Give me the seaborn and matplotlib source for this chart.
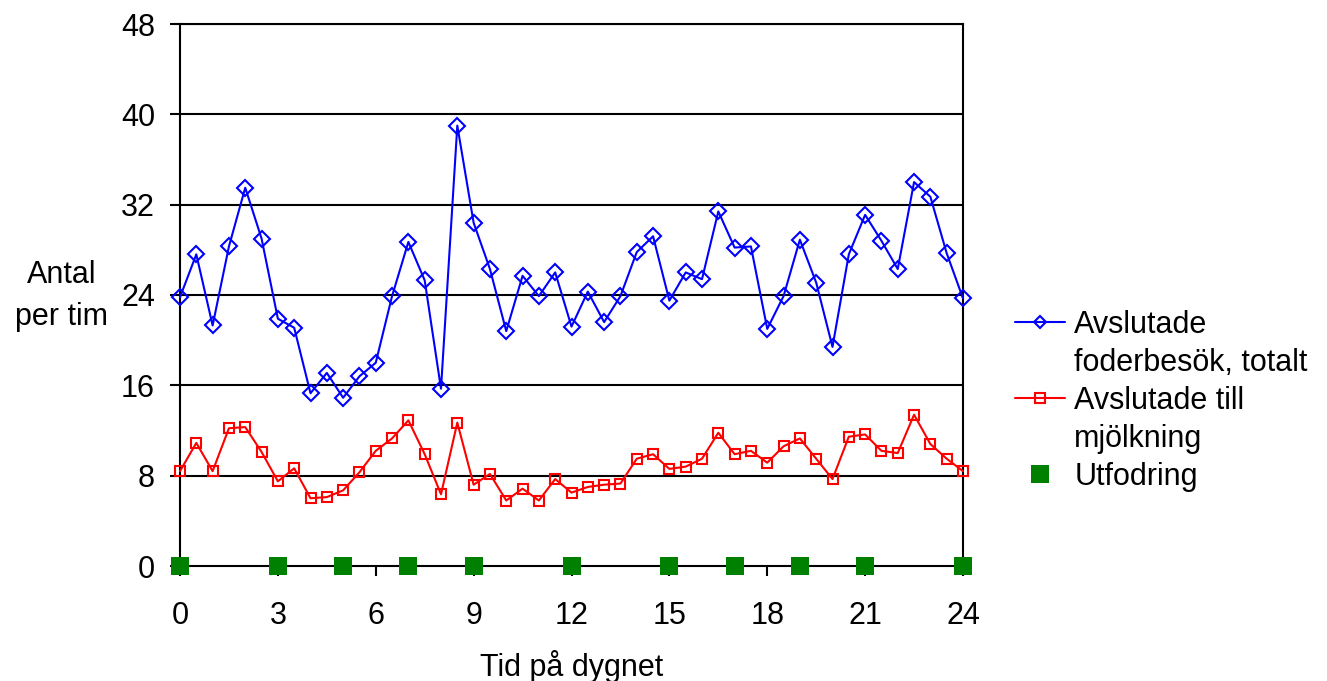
import matplotlib
matplotlib.use("Agg")
import matplotlib.pyplot as plt
from matplotlib.lines import Line2D
import seaborn as sns
import pandas as pd

# Time of day (hours), half-hour resolution
hours = [0, 0.5, 1, 1.5, 2, 2.5, 3, 3.5, 4, 4.5, 5, 5.5, 6, 6.5, 7, 7.5,
         8, 8.5, 9, 9.5, 10, 10.5, 11, 11.5, 12, 12.5, 13, 13.5, 14, 14.5,
         15, 15.5, 16, 16.5, 17, 17.5, 18, 18.5, 19, 19.5, 20, 20.5, 21,
         21.5, 22, 22.5, 23, 23.5, 24]

# Completed feeding visits, total (per hour)
visits_total = [23.8, 27.6, 21.3, 28.3, 33.5, 29.0, 21.9, 21.1, 15.3, 17.1,
                14.9, 16.8, 18.0, 23.9, 28.7, 25.3, 15.7, 39.0, 30.4, 26.3,
                20.8, 25.7, 23.9, 26.0, 21.2, 24.3, 21.6, 23.9, 27.8, 29.2,
                23.5, 26.0, 25.4, 31.4, 28.2, 28.3, 21.0, 23.9, 28.9, 25.1,
                19.4, 27.6, 31.1, 28.8, 26.3, 34.0, 32.7, 27.7, 23.7]

# Completed visits that ended in milking (per hour)
visits_milking = [8.4, 10.9, 8.4, 12.2, 12.3, 10.1, 7.5, 8.65, 6.0, 6.1,
                  6.7, 8.3, 10.2, 11.3, 12.9, 9.9, 6.35, 12.7, 7.2, 8.15,
                  5.8, 6.85, 5.8, 7.7, 6.5, 7.0, 7.2, 7.3, 9.5, 9.9,
                  8.6, 8.8, 9.5, 11.8, 9.9, 10.2, 9.15, 10.6, 11.3, 9.5,
                  7.7, 11.45, 11.65, 10.2, 10.0, 13.4, 10.8, 9.5, 8.4]

# Feeding times
feeding_hours = [0, 3, 5, 7, 9, 12, 15, 17, 19, 21, 24]
feeding_level = [0] * len(feeding_hours)

x_ticks = [0, 3, 6, 9, 12, 15, 18, 21, 24]
y_ticks = [0, 8, 16, 24, 32, 40, 48]

label_total = "Avslutade\nfoderbesök, totalt"
label_milk = "Avslutade till\nmjölkning"
label_feed = "Utfodring"

sns.set_theme(style="white")
plt.rcParams["font.family"] = ["Liberation Sans", "DejaVu Sans"]
plt.rcParams["text.color"] = "black"
FS = 22

df = pd.DataFrame({"tid": hours, "total": visits_total, "mjolk": visits_milking})
feed = pd.DataFrame({"tid": feeding_hours, "niva": feeding_level})

fig = plt.figure(figsize=(13.27, 6.81), dpi=100)
ax = fig.add_axes([180 / 1327, 1 - 566 / 681, (963 - 180) / 1327, (566 - 24) / 681])

for y in y_ticks[1:]:
    ax.axhline(y, color="black", lw=1.5, zorder=1)

sns.lineplot(data=df, x="tid", y="total", ax=ax, color="#0000FF", lw=1.5,
             marker="D", markersize=8, markerfacecolor="none",
             markeredgecolor="#0000FF", markeredgewidth=1.5, zorder=3,
             clip_on=False)
sns.lineplot(data=df, x="tid", y="mjolk", ax=ax, color="#FF0000", lw=1.5,
             marker="s", markersize=7.5, markerfacecolor="none",
             markeredgecolor="#FF0000", markeredgewidth=1.5, zorder=3,
             clip_on=False)
sns.scatterplot(data=feed, x="tid", y="niva", ax=ax, color="#008000",
                marker="s", s=13 ** 2, linewidth=0, zorder=4, clip_on=False)

ax.set_xlim(0, 24)
ax.set_ylim(0, 48)
ax.set_xticks(x_ticks)
ax.set_yticks(y_ticks)
ax.tick_params(axis="both", direction="out", length=7, width=1.5,
               color="black", labelsize=FS, labelcolor="black")
ax.tick_params(axis="x", pad=18, bottom=True)
ax.tick_params(axis="y", pad=11, left=True)
for s in ax.spines.values():
    s.set_color("black")
    s.set_linewidth(1.5)
    s.set_visible(True)
ax.grid(False)

ax.set_xlabel("Tid på dygnet", fontsize=FS, color="black", labelpad=14)
ax.set_ylabel("Antal\nper tim", fontsize=FS, color="black", rotation=0,
              ha="center", va="center", labelpad=0, linespacing=1.5)
ax.yaxis.set_label_coords(-0.151, 0.498)

blank = Line2D([], [], linestyle="none")
handles = [
    Line2D([], [], color="#0000FF", lw=1.5, marker="D", markersize=6,
           markerfacecolor="none", markeredgewidth=1.5),
    blank,
    Line2D([], [], color="#FF0000", lw=1.5, marker="s", markersize=6.5,
           markerfacecolor="none", markeredgewidth=1.5),
    blank,
    Line2D([], [], linestyle="none", marker="s", markersize=13,
           color="#008000", markeredgewidth=0),
]
labels = label_total.split("\n") + label_milk.split("\n") + [label_feed]
fig.legend(handles, labels, loc="upper left",
           bbox_to_anchor=(1015 / 1327, 1 - 310 / 681), frameon=False,
           fontsize=FS, labelcolor="black", handlelength=1.64,
           handletextpad=0.3, labelspacing=0.26, borderpad=0,
           borderaxespad=0)

fig.savefig("out.png", dpi=100)
